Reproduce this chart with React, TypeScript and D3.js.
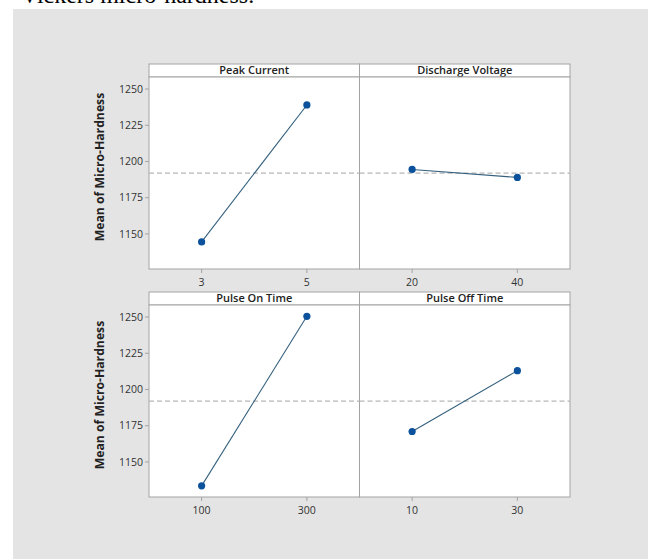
import * as d3 from "d3";
import React from "react";

// main effects plot
const factors = ["Peak Current", "Discharge Voltage", "Pulse On Time", "Pulse Off Time"];
const levels = [["3", "5"], ["20", "40"], ["100", "300"], ["10", "30"]];
const means = [[1144.5, 1239], [1194.5, 1189], [1133.5, 1250.5], [1171, 1213]];
const yTicks = [1150, 1175, 1200, 1225, 1250];
const grandMean = 1192;
const yLabel = "Mean of Micro-Hardness";

const W = 648;
const H = 559;
const left = 149;
const panelW = 210.5;
const headerH = 13;
const plotH = 192;
const rowTops = [64, 292];

const lineColor = "#34607e";
const dotColor = "#0b519b";
const frame = "#a3a3a3";
const font = "'Open Sans', 'Noto Sans', sans-serif";

const App = () => {
  const rows = [0, 1];
  return (
    <svg width={W} height={H} style={{ position: "absolute", left: 0, top: 0 }}>
      <rect x={0} y={0} width={W} height={H} fill="#fff" />
      <text x={21} y={3} fontFamily="'Liberation Serif', serif" fontSize={24} fill="#000">
        Vickers micro-hardness.
      </text>
      <rect x={13} y={9} width={W - 13} height={H - 9} fill="#e4e4e4" />

      {rows.map(r => {
        const top = rowTops[r] + headerH;
        const y = d3.scaleLinear().domain([1125.8, 1258.3]).range([top + plotH, top]);
        const meanY = y(grandMean);
        return (
          <g key={r}>
            {/* y label */}
            <text
              transform={`translate(${104},${top + plotH / 2 - 6}) rotate(-90)`}
              textAnchor="middle"
              fontFamily={font}
              fontWeight={700}
              fontSize={12.2}
              fill="#222"
            >
              {yLabel}
            </text>
            {/* y ticks */}
            {yTicks.map(t => (
              <g key={t}>
                <line x1={left - 4} x2={left} y1={y(t)} y2={y(t)} stroke={frame} />
                <text x={left - 6} y={y(t)} dy="0.35em" textAnchor="end" fontFamily={font} fontSize={10.5} fill="#333">
                  {t}
                </text>
              </g>
            ))}
            {[0, 1].map(c => {
              const k = r * 2 + c;
              const x0 = left + c * panelW;
              const x = d3.scalePoint().domain(levels[k]).range([x0, x0 + panelW]).padding(0.5);
              const pts = levels[k].map((l, i) => [x(l) as number, y(means[k][i])] as [number, number]);
              return (
                <g key={c}>
                  <rect x={x0} y={rowTops[r]} width={panelW} height={headerH} fill="#fff" stroke={frame} />
                  <text x={x0 + panelW / 2} y={rowTops[r] + headerH / 2} dy="0.36em" textAnchor="middle"
                    fontFamily={font} fontWeight={600} fontSize={11} fill="#222">
                    {factors[k]}
                  </text>
                  <rect x={x0} y={top} width={panelW} height={plotH} fill="#fff" stroke={frame} />
                  {levels[k].map(l => (
                    <g key={l}>
                      <line x1={x(l)} x2={x(l)} y1={top + plotH} y2={top + plotH + 4} stroke={frame} />
                      <text x={x(l)} y={top + plotH + 13} dy="0.35em" textAnchor="middle" fontFamily={font} fontSize={10.5} fill="#333">
                        {l}
                      </text>
                    </g>
                  ))}
                  <line x1={x0} x2={x0 + panelW} y1={meanY} y2={meanY} stroke="#b5b5b5" strokeWidth={1.2} strokeDasharray="5,3" />
                  <path d={d3.line()(pts) ?? ""} fill="none" stroke={lineColor} strokeWidth={1.1} />
                  {pts.map((p, i) => (
                    <circle key={i} cx={p[0]} cy={p[1]} r={3.6} fill={dotColor} />
                  ))}
                </g>
              );
            })}
          </g>
        );
      })}
    </svg>
  );
};

export default App;
